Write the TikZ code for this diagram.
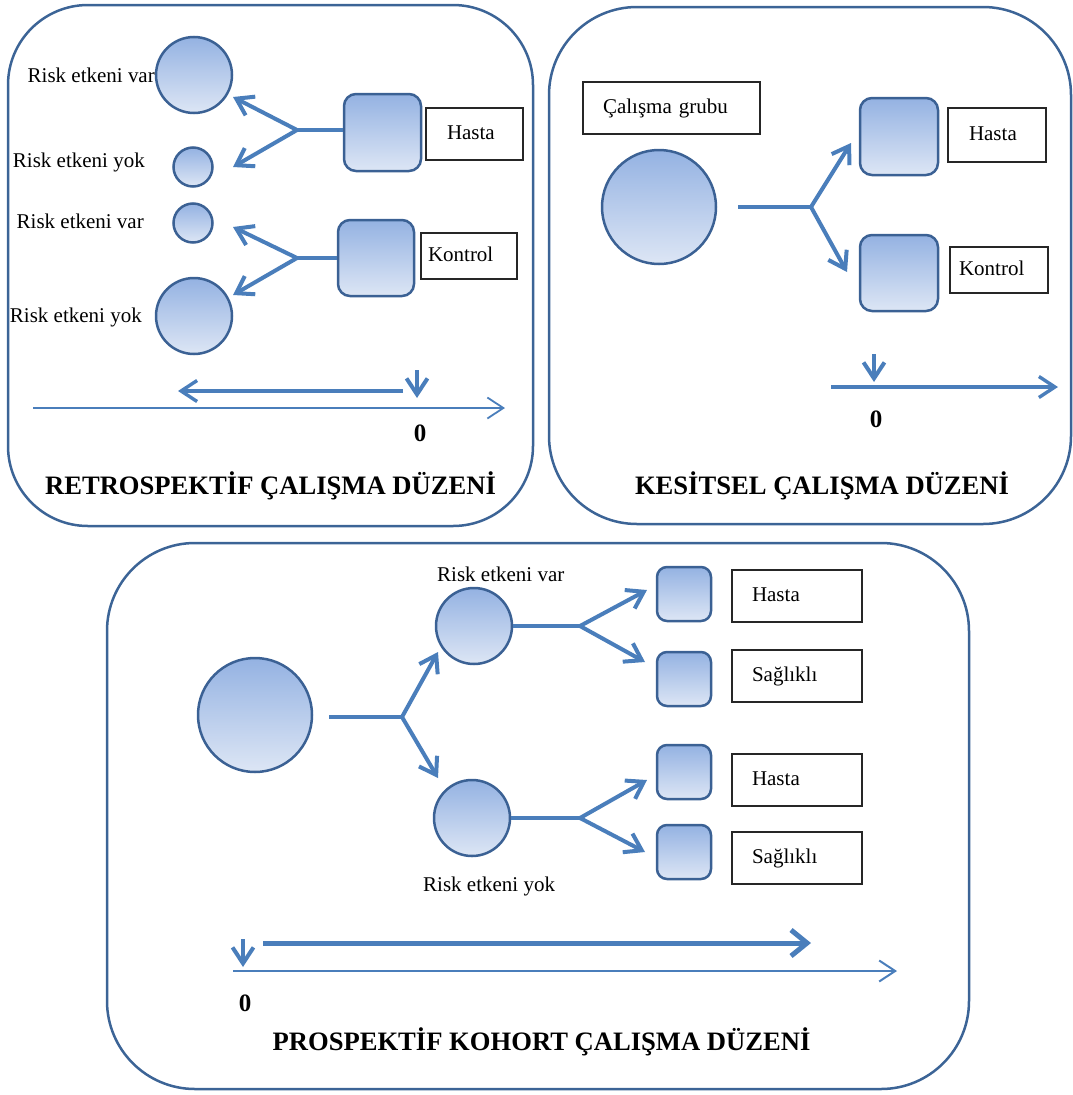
\documentclass[tikz,border=0pt]{standalone}
\usepackage{fontspec}
\setmainfont{Liberation Serif}
\usetikzlibrary{arrows.meta,calc}
\definecolor{panelc}{HTML}{3C6496}
\definecolor{shapec}{HTML}{3B6194}
\definecolor{arrc}{HTML}{4A7EBB}
\definecolor{topc}{HTML}{94B2E2}
\definecolor{botc}{HTML}{DDE6F5}
\definecolor{boxc}{HTML}{262626}
\newcommand\ftxt{\fontsize{21}{24}\selectfont}
\newcommand\fttl{\fontsize{26.6}{30}\selectfont}
\newcommand\fzero{\fontsize{25}{28}\selectfont}
\begin{document}
\begin{tikzpicture}[x=1pt,y=-1pt,
  panel/.style={draw=panelc, line width=2.5pt, rounded corners=#1},
  ball/.style={circle, draw=shapec, line width=2.5pt, top color=topc, bottom color=botc, inner sep=0pt, minimum size=#1},
  sqbox/.style={rectangle, rounded corners=#1, draw=shapec, line width=2.5pt, top color=topc, bottom color=botc, inner sep=0pt},
  lbox/.style={draw=boxc, line width=2pt, font=\ftxt, align=left, inner ysep=0pt, outer sep=0pt, text height=14pt, text depth=4pt},
  txt/.style={font=\ftxt, inner sep=0pt},
  ttl/.style={font=\fttl\bfseries, inner sep=0pt},
  zero/.style={font=\fzero\bfseries, inner sep=0pt},
  fk/.style={draw=arrc, line width=4.6pt},
  ar/.style={draw=arrc, line width=4pt, -{Straight Barb[length=16pt,width=21pt]}},
  thinar/.style={draw=arrc, line width=1.8pt, -{Straight Barb[length=16pt,width=21pt]}},
  midar/.style={draw=arrc, line width=3.4pt, -{Straight Barb[length=16pt,width=21pt]}},
  thickar/.style={draw=arrc, line width=5pt, -{Straight Barb[length=16pt,width=26pt]}}
]
\useasboundingbox (0,0) rectangle (1073,1095);

% ---------------- Panel borders ----------------
\draw[panel=80] (8,5) rectangle (533,526);
\draw[panel=88] (549,7) rectangle (1071,524);
\draw[panel=88] (107,543) rectangle (969,1089);

% ---------------- Panel 1: Retrospektif ----------------
\node[ball=76] (r1) at (194,75) {};
\node[ball=39] (r2) at (193,167) {};
\node[ball=39] (r3) at (193,223) {};
\node[ball=76] (r4) at (194,316) {};

\node[txt, anchor=base east] (lr1) at (155,82) {Risk etkeni var};
\node[txt, anchor=base east] (lr2) at (145,167) {Risk etkeni yok};
\node[txt, anchor=base east] (lr3) at (144,228) {Risk etkeni var};
\node[txt, anchor=base east] (lr4) at (142,322) {Risk etkeni yok};

\node[sqbox=12pt, minimum width=77pt, minimum height=77pt] (sqH) at (382.5,132.5) {};
\node[sqbox=12pt, minimum width=76pt, minimum height=76pt] (sqK) at (376,258) {};

\coordinate (fH) at (297,130);
\coordinate (tH1) at (233,97);
\coordinate (tH2) at (233,167);
\draw[fk] (fH -| sqH.west) -- (fH);
\draw[ar] (fH) -- (tH1);
\draw[ar] (fH) -- (tH2);

\coordinate (fK) at (297,258);
\coordinate (tK1) at (233,227);
\coordinate (tK2) at (233,295);
\draw[fk] (fK -| sqK.west) -- (fK);
\draw[ar] (fK) -- (tK1);
\draw[ar] (fK) -- (tK2);

\coordinate (ax1s) at (33,408);
\coordinate (ax1e) at (505,408);
\draw[thinar] (ax1s) -- (ax1e);
\coordinate (bk1s) at (403,391);
\coordinate (bk1e) at (178,391);
\draw[midar] (bk1s) -- (bk1e);
\coordinate (dn1s) at (417,370);
\coordinate (dn1e) at (417,398);
\draw[ar] (dn1s) -- (dn1e);
\node[zero, anchor=base] (z1) at (420,441) {0};

\node[ttl, anchor=base] (t1) at (270.5,494) {RETROSPEKTİF ÇALIŞMA DÜZENİ};

% ---------------- Panel 2: Kesitsel ----------------
\node[ball=114] (k0) at (659,207) {};
\node[sqbox=12pt, minimum width=78pt, minimum height=77pt] (ksH) at (899,136.5) {};
\node[sqbox=12pt, minimum width=78pt, minimum height=76pt] (ksK) at (899,273) {};

\coordinate (s2) at (738,207);
\coordinate (f2) at (811,207);
\coordinate (t2a) at (851,143);
\coordinate (t2b) at (847,272);
\draw[fk] (s2) -- (f2);
\draw[ar] (f2) -- (t2a);
\draw[ar] (f2) -- (t2b);

\coordinate (ax2s) at (831,387);
\coordinate (ax2e) at (1058,387);
\draw[midar] (ax2s) -- (ax2e);
\coordinate (dn2s) at (874,354);
\coordinate (dn2e) at (874,382);
\draw[ar] (dn2s) -- (dn2e);
\node[zero, anchor=base] (z2) at (876,427) {0};

\node[ttl, anchor=base] (t2) at (822,494) {KESİTSEL ÇALIŞMA DÜZENİ};

% ---------------- Panel 3: Prospektif kohort ----------------
\node[ball=114] (p0) at (255,715) {};
\node[ball=76] (pA) at (474,626) {};
\node[ball=76] (pB) at (472,818) {};
\node[txt, anchor=base west] (lpA) at (437,581) {Risk etkeni var};
\node[txt, anchor=base west] (lpB) at (423,891) {Risk etkeni yok};

\coordinate (s3) at (329,717);
\coordinate (f3) at (402,717);
\coordinate (t3a) at (438,652);
\coordinate (t3b) at (438,778);
\draw[fk] (s3) -- (f3);
\draw[ar] (f3) -- (t3a);
\draw[ar] (f3) -- (t3b);

\node[sqbox=10pt, minimum width=54pt, minimum height=54pt] (q1) at (684,594) {};
\node[sqbox=10pt, minimum width=54pt, minimum height=54pt] (q2) at (684,679) {};
\node[sqbox=10pt, minimum width=54pt, minimum height=54pt] (q3) at (684,772) {};
\node[sqbox=10pt, minimum width=54pt, minimum height=54pt] (q4) at (684,852) {};

\coordinate (fA) at (580,626);
\coordinate (tA1) at (647,590);
\coordinate (tA2) at (645,662);
\draw[fk] (pA.east) -- (fA);
\draw[ar] (fA) -- (tA1);
\draw[ar] (fA) -- (tA2);

\coordinate (fB) at (580,818);
\coordinate (tB1) at (647,780);
\coordinate (tB2) at (645,852);
\draw[fk] (pB.east) -- (fB);
\draw[ar] (fB) -- (tB1);
\draw[ar] (fB) -- (tB2);

\coordinate (tk3s) at (263,943);
\coordinate (tk3e) at (811,943);
\draw[thickar] (tk3s) -- (tk3e);
\coordinate (ax3s) at (233,971);
\coordinate (ax3e) at (897,971);
\draw[thinar, line width=2pt] (ax3s) -- (ax3e);
\coordinate (dn3s) at (243,939);
\coordinate (dn3e) at (243,967);
\draw[ar] (dn3s) -- (dn3e);
\node[zero, anchor=base] (z3) at (245,1011) {0};

\node[ttl, anchor=base] (t3) at (541.5,1050) {PROSPEKTİF KOHORT ÇALIŞMA DÜZENİ};

% ---------------- Label boxes ----------------
\node[lbox, minimum width=97pt, minimum height=52pt, text width=55pt, inner xsep=21pt] (bH) at (474.5,134) {Hasta};
\node[lbox, minimum width=96pt, minimum height=46pt, text width=82pt, inner xsep=7pt] (bK) at (469,256) {Kontrol};
\node[lbox, minimum width=177pt, minimum height=52pt, text width=137pt, inner xsep=20pt] (bG) at (671.5,108) {Çalışma grubu};
\node[lbox, minimum width=98pt, minimum height=54pt, text width=56pt, inner xsep=21pt] (kbH) at (997,135) {Hasta};
\node[lbox, minimum width=98pt, minimum height=46pt, text width=80pt, inner xsep=9pt] (kbK) at (999,270) {Kontrol};
\node[lbox, minimum width=130pt, minimum height=52pt, text width=90pt, inner xsep=20pt] (pb1) at (797,596) {Hasta};
\node[lbox, minimum width=130pt, minimum height=52pt, text width=90pt, inner xsep=20pt] (pb2) at (797,676) {Sağlıklı};
\node[lbox, minimum width=130pt, minimum height=52pt, text width=90pt, inner xsep=20pt] (pb3) at (797,780) {Hasta};
\node[lbox, minimum width=130pt, minimum height=52pt, text width=90pt, inner xsep=20pt] (pb4) at (797,858) {Sağlıklı};
\end{tikzpicture}
\end{document}
